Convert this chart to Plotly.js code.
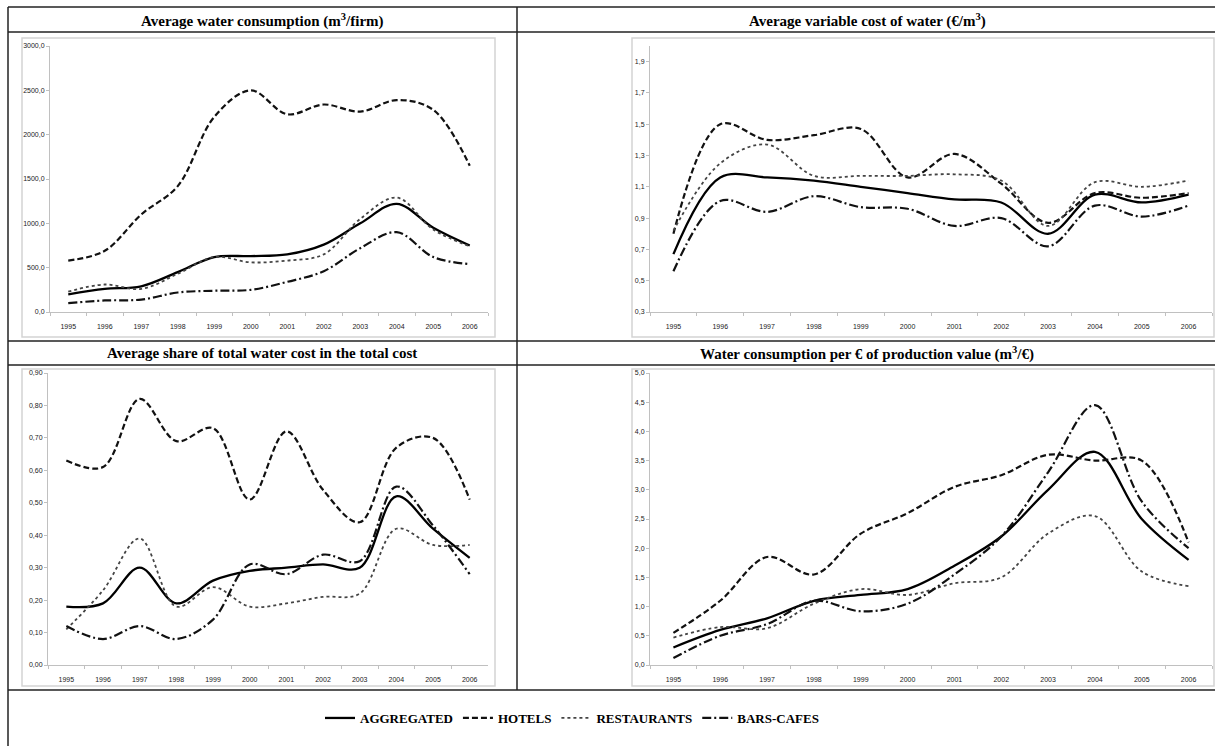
<!DOCTYPE html>
<html><head><meta charset="utf-8">
<script src="https://cdn.plot.ly/plotly-3.0.1.min.js"></script>
<style>html,body{margin:0;padding:0;background:#fff}#chart{width:1215px;height:746px}</style>
</head><body><div id="chart"></div>
<script>
// ---- data ----
const years = ['1995','1996','1997','1998','1999','2000','2001','2002','2003','2004','2005','2006'];
const seriesNames = ['AGGREGATED','HOTELS','RESTAURANTS','BARS-CAFES'];

// Average water consumption (m3/firm)
const consAggregated  = [200, 260, 290, 450, 620, 630, 650, 760, 1000, 1220, 950, 750];
const consHotels      = [580, 690, 1100, 1420, 2200, 2500, 2230, 2340, 2260, 2390, 2280, 1650];
const consRestaurants = [230, 310, 260, 430, 620, 560, 580, 650, 1050, 1290, 930, 740];
const consBars        = [100, 130, 140, 220, 240, 250, 340, 460, 720, 900, 620, 540];

// Average variable cost of water (EUR/m3)
const costAggregated  = [0.67, 1.16, 1.16, 1.14, 1.10, 1.06, 1.02, 1.00, 0.80, 1.05, 1.00, 1.05];
const costHotels      = [0.80, 1.50, 1.40, 1.43, 1.47, 1.16, 1.31, 1.12, 0.87, 1.06, 1.03, 1.06];
const costRestaurants = [0.82, 1.25, 1.37, 1.17, 1.17, 1.17, 1.18, 1.14, 0.85, 1.13, 1.10, 1.14];
const costBars        = [0.56, 1.01, 0.94, 1.04, 0.97, 0.96, 0.85, 0.90, 0.72, 0.98, 0.91, 0.98];

// Average share of total water cost in the total cost
const shareAggregated  = [0.18, 0.19, 0.30, 0.19, 0.26, 0.29, 0.30, 0.31, 0.30, 0.52, 0.42, 0.33];
const shareHotels      = [0.63, 0.61, 0.82, 0.69, 0.73, 0.51, 0.72, 0.54, 0.44, 0.67, 0.70, 0.51];
const shareRestaurants = [0.11, 0.23, 0.39, 0.18, 0.24, 0.18, 0.19, 0.21, 0.22, 0.42, 0.37, 0.37];
const shareBars        = [0.12, 0.08, 0.12, 0.08, 0.14, 0.31, 0.28, 0.34, 0.32, 0.55, 0.43, 0.28];

// Water consumption per EUR of production value (m3/EUR)
const perAggregated  = [0.30, 0.60, 0.80, 1.10, 1.20, 1.30, 1.70, 2.20, 3.00, 3.65, 2.50, 1.80];
const perHotels      = [0.55, 1.10, 1.85, 1.55, 2.25, 2.60, 3.05, 3.25, 3.60, 3.50, 3.50, 2.10];
const perRestaurants = [0.47, 0.65, 0.63, 1.05, 1.30, 1.20, 1.40, 1.50, 2.25, 2.55, 1.60, 1.35];
const perBars        = [0.12, 0.50, 0.70, 1.10, 0.92, 1.05, 1.55, 2.20, 3.30, 4.45, 2.80, 2.00];

const consTicks  = [0, 500, 1000, 1500, 2000, 2500, 3000];
const consLabels = ['0,0','500,0','1000,0','1500,0','2000,0','2500,0','3000,0'];
const costTicks  = [0.3, 0.5, 0.7, 0.9, 1.1, 1.3, 1.5, 1.7, 1.9];
const costLabels = ['0,3','0,5','0,7','0,9','1,1','1,3','1,5','1,7','1,9'];
const shareTicks  = [0, 0.1, 0.2, 0.3, 0.4, 0.5, 0.6, 0.7, 0.8, 0.9];
const shareLabels = ['0,00','0,10','0,20','0,30','0,40','0,50','0,60','0,70','0,80','0,90'];
const perTicks  = [0, 0.5, 1, 1.5, 2, 2.5, 3, 3.5, 4, 4.5, 5];
const perLabels = ['0,0','0,5','1,0','1,5','2,0','2,5','3,0','3,5','4,0','4,5','5,0'];

const titles = [
  'Average water consumption (m<sup>3</sup>/firm)',
  'Average variable cost of water (\u20ac/m<sup>3</sup>)',
  'Average share of total water cost in the total cost',
  'Water consumption per \u20ac of production value (m<sup>3</sup>/\u20ac)'
];

// ---- layout helpers ----
const W = 1215, H = 746;
const px = v => v / W;
const py = v => 1 - v / H;

const styles = [
  {color:'#000', width:2.3, dash:'solid'},
  {color:'#111', width:2.2, dash:'6px,3px'},
  {color:'#444', width:1.8, dash:'dot'},
  {color:'#111', width:2.2, dash:'9px,3px,2px,3px'}
];

const panels = [
  {data:[consAggregated,consHotels,consRestaurants,consBars], range:[0,3000], ticks:consTicks, labels:consLabels,
   x0:50, x1:488, yTop:46, yBot:312},
  {data:[costAggregated,costHotels,costRestaurants,costBars], range:[0.3,2.0], ticks:costTicks, labels:costLabels,
   x0:650, x1:1212, yTop:46, yBot:312},
  {data:[shareAggregated,shareHotels,shareRestaurants,shareBars], range:[0,0.9], ticks:shareTicks, labels:shareLabels,
   x0:48, x1:488, yTop:373, yBot:665},
  {data:[perAggregated,perHotels,perRestaurants,perBars], range:[0,5], ticks:perTicks, labels:perLabels,
   x0:650, x1:1212, yTop:373, yBot:665}
];

const traces = [];
const layout = {
  width: W, height: H, margin:{l:0,r:0,t:0,b:0},
  paper_bgcolor:'#fff', plot_bgcolor:'rgba(0,0,0,0)',
  showlegend:true,
  legend:{orientation:'h', x:px(572), xanchor:'center', y:py(718), yanchor:'middle',
          font:{family:'Liberation Serif, Times New Roman, serif', size:13, color:'#000', weight:'bold'},
          bgcolor:'rgba(0,0,0,0)', itemwidth:30, tracegroupgap:0},
  shapes:[], annotations:[]
};

const tickFont = {family:'Liberation Sans, Arial, sans-serif', size:7, color:'#222'};

panels.forEach((p, i) => {
  const n = i === 0 ? '' : String(i + 1);
  p.data.forEach((vals, s) => {
    traces.push({
      type:'scatter', mode:'lines', x:years, y:vals, name:seriesNames[s],
      xaxis:'x' + n, yaxis:'y' + n, showlegend: i === 0,
      line:{color:styles[s].color, width:styles[s].width, dash:styles[s].dash, shape:'spline', smoothing:1}
    });
  });
  layout['xaxis' + n] = {
    domain:[px(p.x0), px(p.x1)], anchor:'y' + n, type:'category', range:[-0.5, 11.5],
    showline:true, linecolor:'#c0c0c0', linewidth:1, ticks:'outside', tickson:'boundaries',
    ticklen:3, tickcolor:'#c0c0c0', ticklabelstandoff:8,
    showgrid:false, zeroline:false, tickfont:tickFont, fixedrange:true
  };
  layout['yaxis' + n] = {
    domain:[py(p.yBot), py(p.yTop)], anchor:'x' + n, range:p.range,
    tickvals:p.ticks, ticktext:p.labels,
    showline:true, linecolor:'#c0c0c0', linewidth:1, ticks:'outside', ticklen:3, tickcolor:'#c0c0c0',
    showgrid:false, zeroline:false, tickfont:tickFont, fixedrange:true
  };
});

// Excel chart-area frames
const frames = [[22,38,495,337],[632,38,1214,337],[22,369,495,686],[632,369,1214,686]];
frames.forEach(f => layout.shapes.push({type:'rect', xref:'paper', yref:'paper',
  x0:px(f[0]), x1:px(f[2]), y0:py(f[3]), y1:py(f[1]), line:{color:'#d4d4d4', width:1.5}}));

// table lines
const tl = {color:'#222', width:1.5};
[[8,7,1215,7],[8,32,1215,32],[8,341,1215,341],[8,365,1215,365],[8,690,1215,690],
 [8,7,8,746],[517,7,517,690]].forEach(l => layout.shapes.push({type:'line', xref:'paper', yref:'paper',
  x0:px(l[0]), y0:py(l[1]), x1:px(l[2]), y1:py(l[3]), line:tl}));

// titles
const titlePos = [[262,20],[867,20],[262,353],[867,353]];
titles.forEach((t, i) => layout.annotations.push({xref:'paper', yref:'paper', x:px(titlePos[i][0]), y:py(titlePos[i][1]),
  text:'<b>' + t + '</b>', showarrow:false, xanchor:'center', yanchor:'middle',
  font:{family:'Liberation Serif, Times New Roman, serif', size:15, color:'#000'}}));

Plotly.newPlot('chart', traces, layout, {staticPlot:true, displayModeBar:false});
</script></body></html>
